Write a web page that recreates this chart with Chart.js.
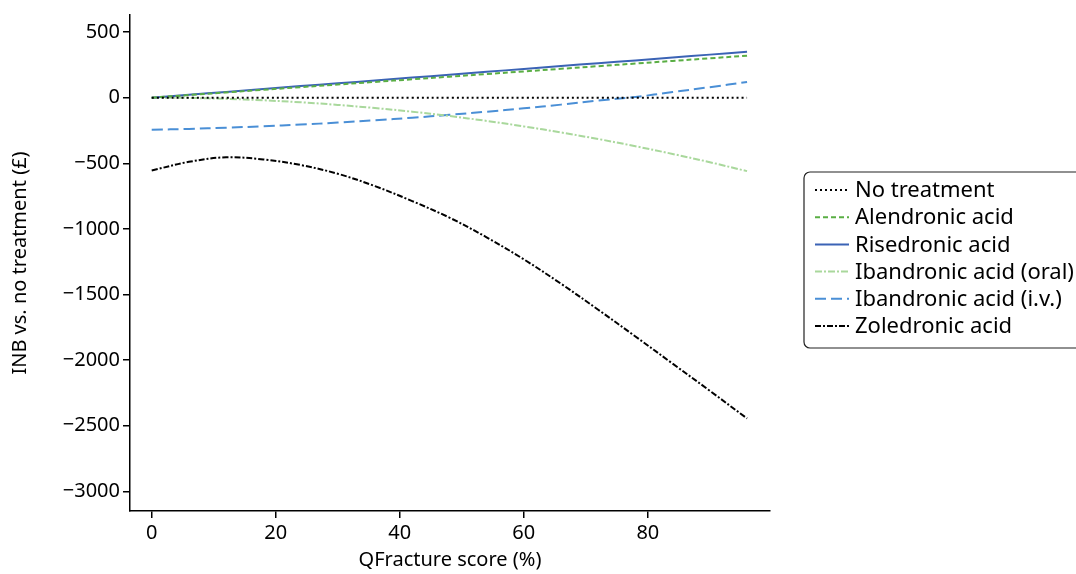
<!DOCTYPE html>
<html>
<head>
    <title>INB vs. no treatment</title>
    <script src="https://cdn.jsdelivr.net/npm/chart.js"></script>
    <style>
        html, body { margin: 0; padding: 0; background: #fff; overflow: hidden; }
        #wrap { width: 1076px; height: 574px; }
    </style>
</head>
<body>
<div id="wrap"><canvas id="chart"></canvas></div>
<script>
    // QFracture score (%) sample points
    var scores = [0, 6, 12, 18, 24, 30, 36, 42, 48, 54, 60, 66, 72, 78, 84, 90, 96];

    // INB vs. no treatment (£)
    var noTreatment = [0, 0, 0, 0, 0, 0, 0, 0, 0, 0, 0, 0, 0, 0, 0, 0, 0];
    var alendronic  = [0, 20, 40, 60, 80, 100, 120, 140, 160, 180, 200, 220, 240, 260, 280, 300, 320];
    var risedronic  = [0, 22, 44, 66, 88, 109, 131, 153, 175, 197, 219, 241, 263, 284, 306, 328, 350];
    var ibanOral    = [0, -2, -9, -20, -35, -55, -79, -107, -140, -177, -219, -265, -315, -370, -429, -492, -560];
    var ibanIv      = [-245, -238, -229, -218, -205, -190, -172, -153, -131, -107, -81, -53, -22, 5, 43, 80, 120];
    var zoledronic  = [-555, -489, -454, -471, -513, -580, -674, -788, -914, -1064, -1232, -1418, -1616, -1820, -2027, -2234, -2445];

    var yTicks = [500, 0, -500, -1000, -1500, -2000, -2500, -3000];
    var xTicks = [0, 20, 40, 60, 80];

    var font = '"Noto Sans", "DejaVu Sans", sans-serif';

    function pts(arr) {
        return scores.map(function (s, i) { return { x: s, y: arr[i] }; });
    }

    function series(label, arr, color, dash, width) {
        return {
            label: label,
            data: pts(arr),
            borderColor: color,
            borderDash: dash,
            borderWidth: width,
            pointRadius: 0,
            fill: false,
            tension: 0.35
        };
    }

    // legend drawn in a framed box to the right of the plot
    var boxLegend = {
        id: 'boxLegend',
        afterDraw: function (chart) {
            var ctx = chart.ctx;
            var left = 804, top = 172, right = 1095, bottom = 348;
            ctx.save();
            ctx.beginPath();
            ctx.roundRect(left, top, right - left, bottom - top, 6);
            ctx.lineWidth = 1.2;
            ctx.strokeStyle = '#222';
            ctx.setLineDash([]);
            ctx.stroke();
            ctx.font = '22px ' + font;
            ctx.textBaseline = 'middle';
            chart.data.datasets.forEach(function (ds, i) {
                var y = 190 + i * 27.2;
                ctx.beginPath();
                ctx.setLineDash(ds.borderDash || []);
                ctx.strokeStyle = ds.borderColor;
                ctx.lineWidth = ds.borderWidth;
                ctx.moveTo(815, y);
                ctx.lineTo(849, y);
                ctx.stroke();
                ctx.setLineDash([]);
                ctx.fillStyle = '#000';
                ctx.fillText(ds.label, 855, y + 1);
            });
            ctx.restore();
        }
    };

    var ctx = document.getElementById('chart').getContext('2d');
    var chart = new Chart(ctx, {
        type: 'line',
        data: {
            datasets: [
                series('No treatment', noTreatment, '#000000', [2, 3], 2),
                series('Alendronic acid', alendronic, '#5aae44', [5, 3], 2),
                series('Risedronic acid', risedronic, '#3b63b5', [], 2),
                series('Ibandronic acid (oral)', ibanOral, '#a9d89c', [7, 2, 2, 2], 2),
                series('Ibandronic acid (i.v.)', ibanIv, '#4a8fd6', [11, 5], 2),
                series('Zoledronic acid', zoledronic, '#000000', [6, 2, 2, 2], 2)
            ]
        },
        options: {
            responsive: true,
            maintainAspectRatio: false,
            animation: false,
            layout: { padding: { top: 15, right: 306, left: 0, bottom: 0 } },
            scales: {
                x: {
                    type: 'linear',
                    min: -3.5,
                    max: 99.7,
                    afterBuildTicks: function (scale) {
                        scale.ticks = xTicks.map(function (v) { return { value: v }; });
                    },
                    afterFit: function (scale) { scale.height = 63; },
                    grid: { drawOnChartArea: false, drawTicks: true, tickLength: 7, color: '#000', lineWidth: 1.5 },
                    border: { display: true, color: '#000', width: 1.5 },
                    ticks: { color: '#000', font: { family: font, size: 20 }, padding: 3, maxRotation: 0 },
                    title: {
                        display: true,
                        text: 'QFracture score (%)',
                        color: '#000',
                        font: { family: font, size: 20 },
                        padding: { top: 0, bottom: 2 }
                    }
                },
                y: {
                    min: -3150,
                    max: 630,
                    afterBuildTicks: function (scale) {
                        scale.ticks = yTicks.map(function (v) { return { value: v }; });
                    },
                    afterFit: function (scale) { scale.width = 130; },
                    grid: { drawOnChartArea: false, drawTicks: true, tickLength: 7, color: '#000', lineWidth: 1.5 },
                    border: { display: true, color: '#000', width: 1.5 },
                    ticks: {
                        color: '#000',
                        font: { family: font, size: 20 },
                        padding: 3,
                        callback: function (v) { return v < 0 ? '\u2212' + Math.abs(v) : String(v); }
                    },
                    title: {
                        display: true,
                        text: 'INB vs. no treatment (£)',
                        color: '#000',
                        font: { family: font, size: 20 },
                        padding: { top: 8, bottom: 4 }
                    }
                }
            },
            plugins: {
                legend: { display: false },
                tooltip: { enabled: false }
            }
        },
        plugins: [boxLegend]
    });
</script>
</body>
</html>
